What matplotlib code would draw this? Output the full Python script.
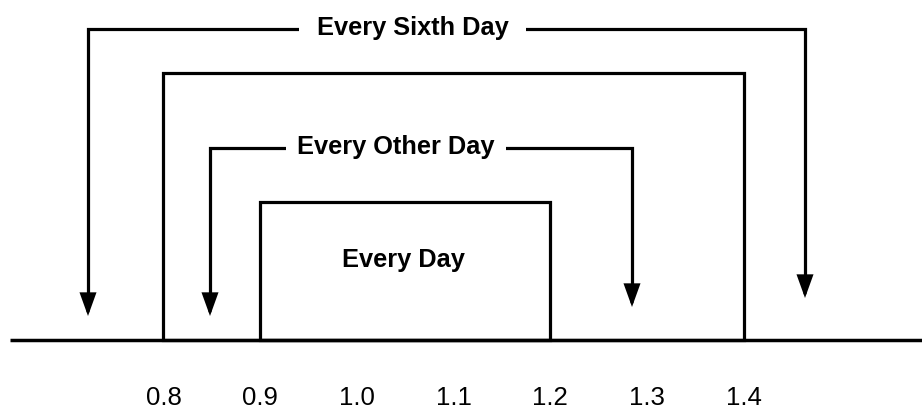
import matplotlib
matplotlib.use("Agg")
import matplotlib.pyplot as plt
from matplotlib.patches import Rectangle

# data
tick_values = [0.8, 0.9, 1.0, 1.1, 1.2, 1.3, 1.4]
tick_labels = ["0.8", "0.9", "1.0", "1.1", "1.2", "1.3", "1.4"]
outer_range = (0.8, 1.4)   # spans of the boxes on the dose axis
inner_range = (0.9, 1.2)
labels = ["Every Day", "Every Other Day", "Every Sixth Day"]

plt.rcParams["font.family"] = ["Liberation Sans", "DejaVu Sans"]
W, H = 922, 409
fig = plt.figure(figsize=(W / 100, H / 100), dpi=100)
ax = fig.add_axes([0, 0, 1, 1])

# horizontal scale: 0.8 -> px 163.5, px per unit; vertical in pixels
px0, scale = 163.5, 967.0
ax.set_xlim(0.8 - px0 / scale, 0.8 + (W - px0) / scale)
ax.set_ylim(H, 0)
ax.axis("off")


def dx(px):
    return 0.8 + (px - px0) / scale


lw = 2.3
base_y = 340
ax.plot([dx(10), dx(W)], [base_y, base_y], color="black", lw=2.5,
        solid_capstyle="butt", zorder=3)

# boxes
for (a, b), top in [(outer_range, 73), (inner_range, 202)]:
    ax.add_patch(Rectangle((a, top), b - a, base_y - top, fill=False,
                           edgecolor="black", lw=lw, joinstyle="miter"))

ax.text(dx(403), 267, labels[0], ha="center", va="baseline",
        fontsize=18.3, fontweight="bold")


def bracket(xl, xr, top, tip_l, tip_r, text, tx, pad):
    head = 16
    ax.plot([xl, xl, xr, xr], [tip_l - head, top, top, tip_r - head],
            color="black", lw=lw, solid_joinstyle="miter", zorder=2)
    for x, tip in [(xl, tip_l), (xr, tip_r)]:
        ax.annotate("", xy=(x, tip), xytext=(x, tip - head - 2),
                    arrowprops=dict(arrowstyle="-|>,head_length=1.25,head_width=0.45",
                                    color="black", lw=lw, shrinkA=0, shrinkB=0,
                                    joinstyle="miter"))
    ax.text(tx, top + 6, text, ha="center", va="baseline",
            fontsize=18.3, fontweight="bold", zorder=4,
            bbox=dict(boxstyle=f"square,pad={pad}", fc="white", ec="none"))


bracket(dx(88), dx(805), 29, 316, 298, labels[2], dx(412.5), 0.7)
bracket(dx(210), dx(632), 148, 316, 307, labels[1], dx(396), 0.45)

for v, t in zip(tick_values, tick_labels):
    ax.text(v, 405, t, ha="center", va="baseline", fontsize=18.5)

fig.savefig("out.png", dpi=100)
